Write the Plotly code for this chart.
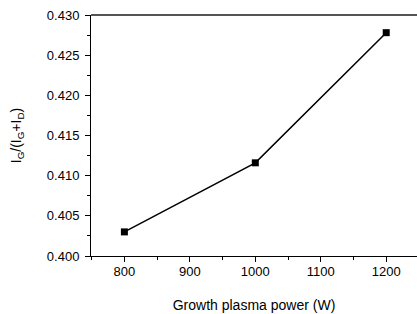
import plotly.graph_objects as go

power = [800, 1000, 1200]
ratio = [0.4030, 0.4116, 0.4278]
x_ticks = [800, 900, 1000, 1100, 1200]
y_ticks = [0.400, 0.405, 0.410, 0.415, 0.420, 0.425, 0.430]
y_tick_text = ["0.400", "0.405", "0.410", "0.415", "0.420", "0.425", "0.430"]

font = "Arial, Liberation Sans, sans-serif"

fig = go.Figure()
fig.add_trace(go.Scatter(
    x=power, y=ratio, mode="lines+markers",
    line=dict(color="black", width=1.5),
    marker=dict(symbol="square", size=7, color="black"),
    showlegend=False,
))

fig.update_layout(
    width=417, height=314,
    margin=dict(l=91, r=0, t=15, b=58),
    paper_bgcolor="white", plot_bgcolor="white",
    font=dict(family=font, color="black", size=13),
    xaxis=dict(
        range=[749, 1247], tickvals=x_ticks, ticks="outside", ticklen=5,
        tickwidth=1, tickcolor="black", showline=True, linecolor="black",
        linewidth=1, showgrid=False, zeroline=False,
        tickfont=dict(size=13), ticklabelstandoff=-2,
        minor=dict(dtick=50, tick0=750, ticks="outside", ticklen=3, tickcolor="black"),
        title=dict(text="Growth plasma power (W)", font=dict(size=14), standoff=22),
    ),
    yaxis=dict(
        range=[0.400, 0.430], tickvals=y_ticks, ticktext=y_tick_text,
        ticks="outside", ticklen=5, tickwidth=1, tickcolor="black",
        showline=True, linecolor="black", linewidth=1, showgrid=False,
        zeroline=False, tickfont=dict(size=13), ticklabelstandoff=3,
        minor=dict(dtick=0.0025, tick0=0.400, ticks="outside", ticklen=3, tickcolor="black"),
        title=dict(text="I<sub>G</sub>/(I<sub>G</sub>+I<sub>D</sub>)", font=dict(size=14), standoff=21),
    ),
    shapes=[dict(type="line", xref="paper", yref="paper", x0=0, x1=1, y0=1, y1=1,
                 line=dict(color="#555555", width=2))],
)

fig.write_html(
    "out.html",
    config={"displayModeBar": False},
    post_script="document.body.style.margin='0';document.body.style.overflow='hidden';",
)
